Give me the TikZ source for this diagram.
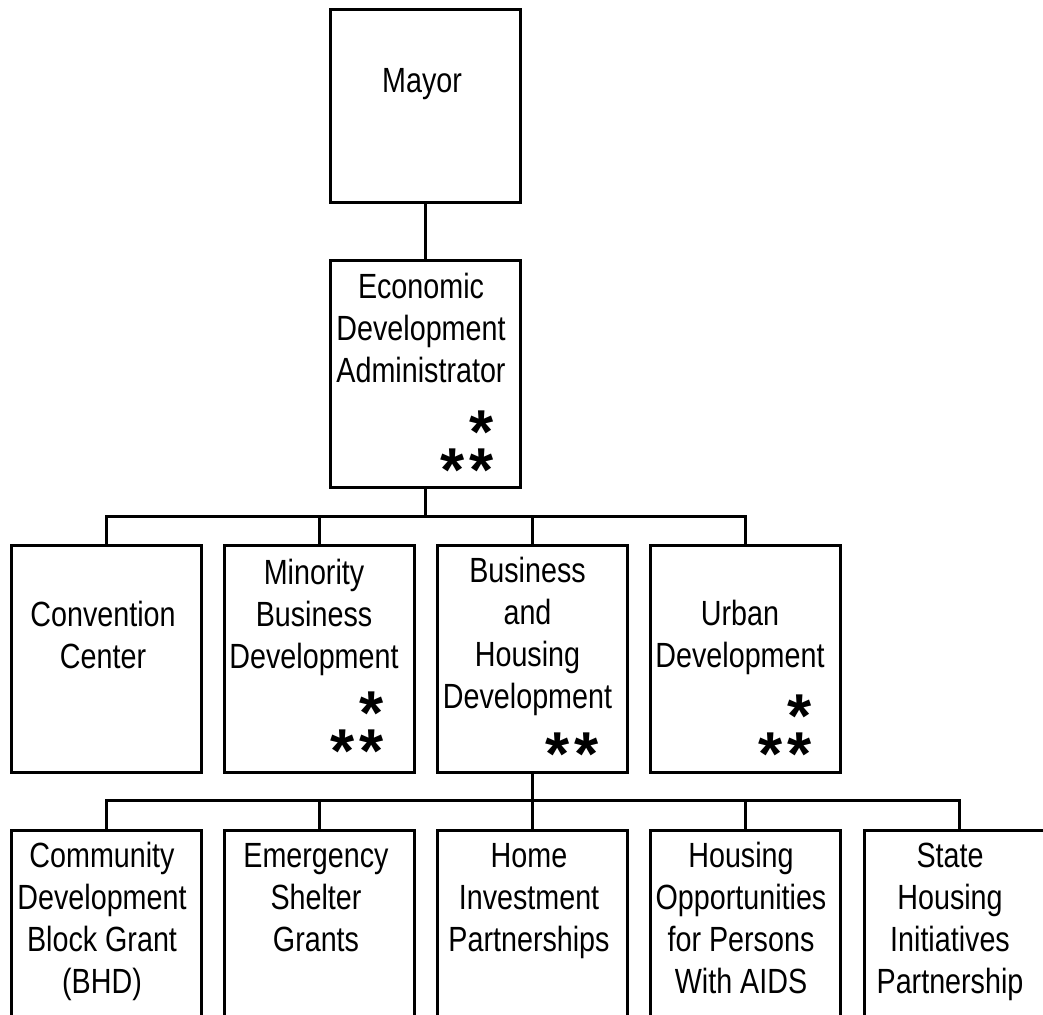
\documentclass[tikz,border=0pt]{standalone}
\usepackage{fontspec}
\setmainfont{Liberation Sans}[FakeStretch=0.82]
\newfontfamily\astfont{Liberation Sans}
\newcommand\astsetup{\astfont\bfseries\fontsize{62}{38}\selectfont\lineskiplimit -100pt\relax}
\newcommand\twostars{*\kern5pt*}
\begin{document}
\begin{tikzpicture}[x=1pt,y=-1pt,
  box/.style={draw,line width=3pt,minimum width=190pt,inner sep=0pt},
  lbl/.style={anchor=north,inner sep=0pt,align=center,font=\fontsize{35}{42}\selectfont},
  ast/.style={anchor=north east,inner sep=0pt,align=right,font=\astsetup},
  link/.style={line width=3pt}]
\useasboundingbox (0,0) rectangle (1043,1014);
\clip (0,0) rectangle (1043,1014);
% boxes
\node[box,minimum height=192pt] (mayor) at (425,106) {};
\node[box,minimum height=227pt] (eda) at (425,373.5) {};
\node[box,minimum height=227pt] (cc) at (106,658.5) {};
\node[box,minimum height=227pt] (mbd) at (319,658.5) {};
\node[box,minimum height=227pt] (bhd) at (532,658.5) {};
\node[box,minimum height=227pt] (ud) at (745,658.5) {};
\node[box,minimum height=227pt] (cdbg) at (106,943.5) {};
\node[box,minimum height=227pt] (esg) at (319,943.5) {};
\node[box,minimum height=227pt] (hip) at (532,943.5) {};
\node[box,minimum height=227pt] (hopwa) at (745,943.5) {};
\node[box,minimum height=227pt] (ship) at (959,943.5) {};
% labels
\node[lbl] (tmayor) at (422,63.25) {\strut Mayor};
\node[lbl] (teda) at (421,269.25) {\strut Economic\\Development\\Administrator};
\node[lbl] (tcc) at (103,597.25) {\strut Convention\\Center};
\node[lbl] (tmbd) at (314,555.25) {\strut Minority\\Business\\Development};
\node[lbl] (tbhd) at (527.5,553.25) {\strut Business\\and\\Housing\\Development};
\node[lbl] (tud) at (740,596.25) {\strut Urban\\Development};
\node[lbl] (tcdbg) at (102,838.25) {\strut Community\\Development\\Block Grant\\(BHD)};
\node[lbl] (tesg) at (316,838.25) {\strut Emergency\\Shelter\\Grants};
\node[lbl] (thip) at (529,838.25) {\strut Home\\Investment\\Partnerships};
\node[lbl] (thopwa) at (741,838.25) {\strut Housing\\Opportunities\\for Persons\\With AIDS};
\node[lbl] (tship) at (950,838.25) {\strut State\\Housing\\Initiatives\\Partnership};
% asterisks
\node[ast] (a1) at (494,411) {*\\\twostars};
\node[ast] (a2) at (384,692) {*\\\twostars};
\node[ast] (a3) at (599,733) {\twostars};
\node[ast] (a4) at (812,695) {*\\\twostars};
% connectors
\coordinate (j1) at (425,516);
\coordinate (j2) at (532,800);
\draw[link] (mayor.south) -- (eda.north);
\draw[link] (eda.south) -- (j1);
\draw[link] (j1) -| (cc.north);
\draw[link] (j1) -| (mbd.north);
\draw[link] (j1) -| (bhd.north);
\draw[link] (j1) -| (ud.north);
\draw[link] (bhd.south) -- (j2);
\draw[link] (j2) -| (cdbg.north);
\draw[link] (j2) -| (esg.north);
\draw[link] (j2) -| (hip.north);
\draw[link] (j2) -| (hopwa.north);
\draw[link] (j2) -| (ship.north);
\end{tikzpicture}
\end{document}
